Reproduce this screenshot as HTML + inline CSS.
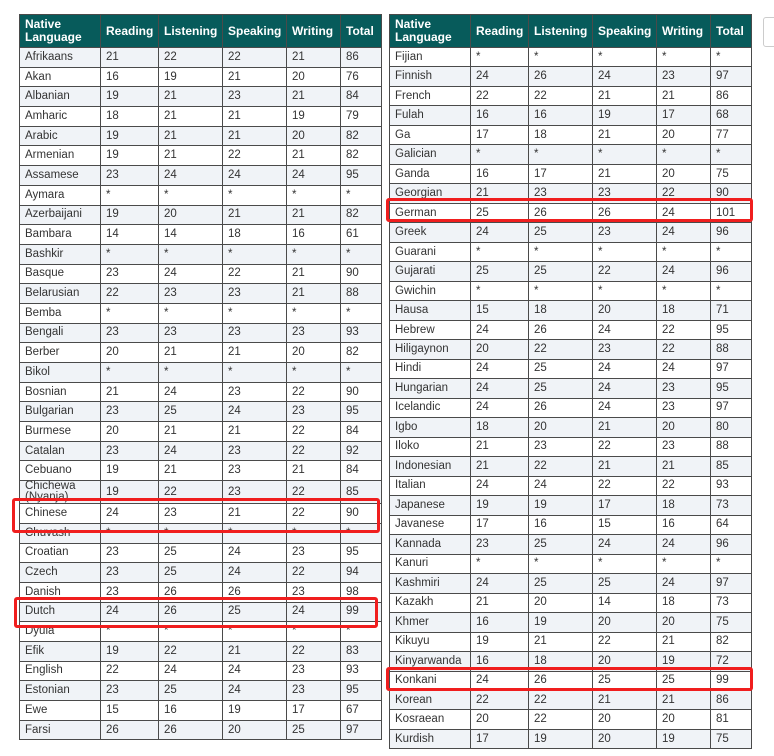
<!DOCTYPE html>
<html><head><meta charset="utf-8"><style>
body{margin:0;width:774px;height:756px;background:#fff;position:relative;overflow:hidden;font-family:"Liberation Sans",sans-serif}
table{position:absolute;border-collapse:collapse;table-layout:fixed;font-size:11.5px;color:#333}
td,th{border:1px solid #4a4a4a;padding:0 0 0 5px;text-align:left;white-space:nowrap;overflow:hidden;line-height:11px}
th{background:#075b5b;color:#fff;font-weight:bold;font-size:12px;height:32px;line-height:13px}
tr:nth-child(even) td{background:#f0f3f7}
#L{left:19px;top:14px;width:362px}
#L td{height:18.69px}
#R{left:389px;top:14px;width:362px}
#R td{height:18.49px}
#R tr:nth-child(even) td{background:#fff}
#R tr:nth-child(odd) td{background:#f0f3f7}
.box{position:absolute;border:3px solid #f01e1e;border-radius:3px}
</style></head><body>
<table id="L"><colgroup><col style="width:81px"><col style="width:58px"><col style="width:64px"><col style="width:64px"><col style="width:54px"><col style="width:41px"></colgroup>
<tr><th>Native<br>Language</th><th>Reading</th><th>Listening</th><th>Speaking</th><th>Writing</th><th>Total</th></tr>
<tr><td>Afrikaans</td><td>21</td><td>22</td><td>22</td><td>21</td><td>86</td></tr>
<tr><td>Akan</td><td>16</td><td>19</td><td>21</td><td>20</td><td>76</td></tr>
<tr><td>Albanian</td><td>19</td><td>21</td><td>23</td><td>21</td><td>84</td></tr>
<tr><td>Amharic</td><td>18</td><td>21</td><td>21</td><td>19</td><td>79</td></tr>
<tr><td>Arabic</td><td>19</td><td>21</td><td>21</td><td>20</td><td>82</td></tr>
<tr><td>Armenian</td><td>19</td><td>21</td><td>22</td><td>21</td><td>82</td></tr>
<tr><td>Assamese</td><td>23</td><td>24</td><td>24</td><td>24</td><td>95</td></tr>
<tr><td>Aymara</td><td>*</td><td>*</td><td>*</td><td>*</td><td>*</td></tr>
<tr><td>Azerbaijani</td><td>19</td><td>20</td><td>21</td><td>21</td><td>82</td></tr>
<tr><td>Bambara</td><td>14</td><td>14</td><td>18</td><td>16</td><td>61</td></tr>
<tr><td>Bashkir</td><td>*</td><td>*</td><td>*</td><td>*</td><td>*</td></tr>
<tr><td>Basque</td><td>23</td><td>24</td><td>22</td><td>21</td><td>90</td></tr>
<tr><td>Belarusian</td><td>22</td><td>23</td><td>23</td><td>21</td><td>88</td></tr>
<tr><td>Bemba</td><td>*</td><td>*</td><td>*</td><td>*</td><td>*</td></tr>
<tr><td>Bengali</td><td>23</td><td>23</td><td>23</td><td>23</td><td>93</td></tr>
<tr><td>Berber</td><td>20</td><td>21</td><td>21</td><td>20</td><td>82</td></tr>
<tr><td>Bikol</td><td>*</td><td>*</td><td>*</td><td>*</td><td>*</td></tr>
<tr><td>Bosnian</td><td>21</td><td>24</td><td>23</td><td>22</td><td>90</td></tr>
<tr><td>Bulgarian</td><td>23</td><td>25</td><td>24</td><td>23</td><td>95</td></tr>
<tr><td>Burmese</td><td>20</td><td>21</td><td>21</td><td>22</td><td>84</td></tr>
<tr><td>Catalan</td><td>23</td><td>24</td><td>23</td><td>22</td><td>92</td></tr>
<tr><td>Cebuano</td><td>19</td><td>21</td><td>23</td><td>21</td><td>84</td></tr>
<tr><td>Chichewa<br>(Nyanja)</td><td>19</td><td>22</td><td>23</td><td>22</td><td>85</td></tr>
<tr><td>Chinese</td><td>24</td><td>23</td><td>21</td><td>22</td><td>90</td></tr>
<tr><td>Chuvash</td><td>*</td><td>*</td><td>*</td><td>*</td><td>*</td></tr>
<tr><td>Croatian</td><td>23</td><td>25</td><td>24</td><td>23</td><td>95</td></tr>
<tr><td>Czech</td><td>23</td><td>25</td><td>24</td><td>22</td><td>94</td></tr>
<tr><td>Danish</td><td>23</td><td>26</td><td>26</td><td>23</td><td>98</td></tr>
<tr><td>Dutch</td><td>24</td><td>26</td><td>25</td><td>24</td><td>99</td></tr>
<tr><td>Dyula</td><td>*</td><td>*</td><td>*</td><td>*</td><td>*</td></tr>
<tr><td>Efik</td><td>19</td><td>22</td><td>21</td><td>22</td><td>83</td></tr>
<tr><td>English</td><td>22</td><td>24</td><td>24</td><td>23</td><td>93</td></tr>
<tr><td>Estonian</td><td>23</td><td>25</td><td>24</td><td>23</td><td>95</td></tr>
<tr><td>Ewe</td><td>15</td><td>16</td><td>19</td><td>17</td><td>67</td></tr>
<tr><td>Farsi</td><td>26</td><td>26</td><td>20</td><td>25</td><td>97</td></tr>
</table>
<table id="R"><colgroup><col style="width:81px"><col style="width:58px"><col style="width:64px"><col style="width:64px"><col style="width:54px"><col style="width:41px"></colgroup>
<tr><th>Native<br>Language</th><th>Reading</th><th>Listening</th><th>Speaking</th><th>Writing</th><th>Total</th></tr>
<tr><td>Fijian</td><td>*</td><td>*</td><td>*</td><td>*</td><td>*</td></tr>
<tr><td>Finnish</td><td>24</td><td>26</td><td>24</td><td>23</td><td>97</td></tr>
<tr><td>French</td><td>22</td><td>22</td><td>21</td><td>21</td><td>86</td></tr>
<tr><td>Fulah</td><td>16</td><td>16</td><td>19</td><td>17</td><td>68</td></tr>
<tr><td>Ga</td><td>17</td><td>18</td><td>21</td><td>20</td><td>77</td></tr>
<tr><td>Galician</td><td>*</td><td>*</td><td>*</td><td>*</td><td>*</td></tr>
<tr><td>Ganda</td><td>16</td><td>17</td><td>21</td><td>20</td><td>75</td></tr>
<tr><td>Georgian</td><td>21</td><td>23</td><td>23</td><td>22</td><td>90</td></tr>
<tr><td>German</td><td>25</td><td>26</td><td>26</td><td>24</td><td>101</td></tr>
<tr><td>Greek</td><td>24</td><td>25</td><td>23</td><td>24</td><td>96</td></tr>
<tr><td>Guarani</td><td>*</td><td>*</td><td>*</td><td>*</td><td>*</td></tr>
<tr><td>Gujarati</td><td>25</td><td>25</td><td>22</td><td>24</td><td>96</td></tr>
<tr><td>Gwichin</td><td>*</td><td>*</td><td>*</td><td>*</td><td>*</td></tr>
<tr><td>Hausa</td><td>15</td><td>18</td><td>20</td><td>18</td><td>71</td></tr>
<tr><td>Hebrew</td><td>24</td><td>26</td><td>24</td><td>22</td><td>95</td></tr>
<tr><td>Hiligaynon</td><td>20</td><td>22</td><td>23</td><td>22</td><td>88</td></tr>
<tr><td>Hindi</td><td>24</td><td>25</td><td>24</td><td>24</td><td>97</td></tr>
<tr><td>Hungarian</td><td>24</td><td>25</td><td>24</td><td>23</td><td>95</td></tr>
<tr><td>Icelandic</td><td>24</td><td>26</td><td>24</td><td>23</td><td>97</td></tr>
<tr><td>Igbo</td><td>18</td><td>20</td><td>21</td><td>20</td><td>80</td></tr>
<tr><td>Iloko</td><td>21</td><td>23</td><td>22</td><td>23</td><td>88</td></tr>
<tr><td>Indonesian</td><td>21</td><td>22</td><td>21</td><td>21</td><td>85</td></tr>
<tr><td>Italian</td><td>24</td><td>24</td><td>22</td><td>22</td><td>93</td></tr>
<tr><td>Japanese</td><td>19</td><td>19</td><td>17</td><td>18</td><td>73</td></tr>
<tr><td>Javanese</td><td>17</td><td>16</td><td>15</td><td>16</td><td>64</td></tr>
<tr><td>Kannada</td><td>23</td><td>25</td><td>24</td><td>24</td><td>96</td></tr>
<tr><td>Kanuri</td><td>*</td><td>*</td><td>*</td><td>*</td><td>*</td></tr>
<tr><td>Kashmiri</td><td>24</td><td>25</td><td>25</td><td>24</td><td>97</td></tr>
<tr><td>Kazakh</td><td>21</td><td>20</td><td>14</td><td>18</td><td>73</td></tr>
<tr><td>Khmer</td><td>16</td><td>19</td><td>20</td><td>20</td><td>75</td></tr>
<tr><td>Kikuyu</td><td>19</td><td>21</td><td>22</td><td>21</td><td>82</td></tr>
<tr><td>Kinyarwanda</td><td>16</td><td>18</td><td>20</td><td>19</td><td>72</td></tr>
<tr><td>Konkani</td><td>24</td><td>26</td><td>25</td><td>25</td><td>99</td></tr>
<tr><td>Korean</td><td>22</td><td>22</td><td>21</td><td>21</td><td>86</td></tr>
<tr><td>Kosraean</td><td>20</td><td>22</td><td>20</td><td>20</td><td>81</td></tr>
<tr><td>Kurdish</td><td>17</td><td>19</td><td>20</td><td>19</td><td>75</td></tr>
</table>
<div class="box" style="left:12px;top:498px;width:362px;height:29px"></div>
<div class="box" style="left:14px;top:597px;width:358px;height:25px"></div>
<div class="box" style="left:386px;top:198px;width:361px;height:18px"></div>
<div class="box" style="left:386px;top:667px;width:361px;height:18px"></div>
<div style="position:absolute;left:763px;top:17px;width:14px;height:28px;border:1px solid #ccc;border-radius:3px;background:#fff"></div>
</body></html>
